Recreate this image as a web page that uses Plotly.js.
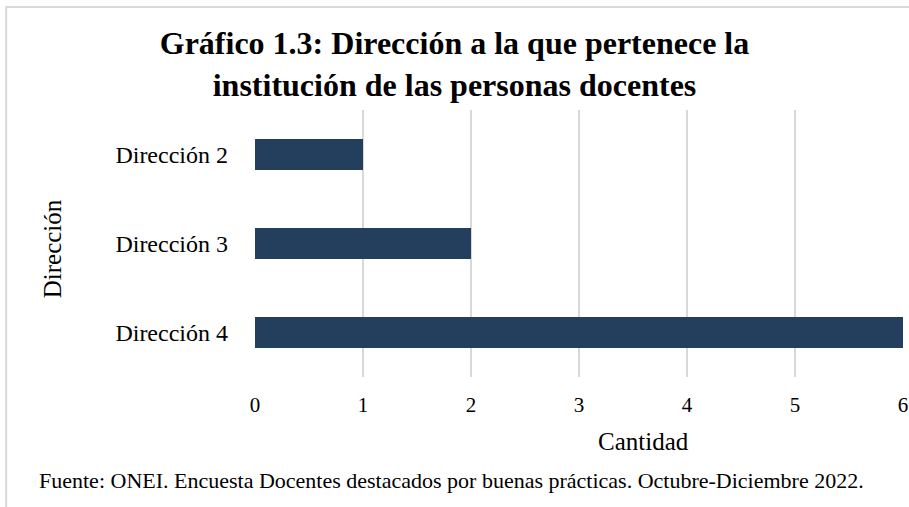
<!DOCTYPE html>
<html>
<head>
<meta charset="utf-8">
<script src="https://cdn.plot.ly/plotly-3.0.1.min.js"></script>
<style>html,body{margin:0;padding:0;background:#fff;}#chart{width:909px;height:507px;}</style>
</head>
<body>
<div id="chart"></div>
<script>
var categories = ['Dirección 2', 'Dirección 3', 'Dirección 4'];
var values = [1, 2, 6];
var xTicks = [0, 1, 2, 3, 4, 5, 6];
var titleText = 'Gráfico 1.3: Dirección a la que pertenece la<br>institución de las personas docentes';
var xTitle = 'Cantidad';
var yTitle = 'Dirección';
var sourceText = 'Fuente: ONEI. Encuesta Docentes destacados por buenas prácticas. Octubre-Diciembre 2022.';

var serif = 'Liberation Serif, Times New Roman, serif';

var trace = {
  type: 'bar',
  orientation: 'h',
  y: categories,
  x: values,
  marker: {color: '#243f5e'},
  width: 0.35,
  hoverinfo: 'x+y'
};

var layout = {
  width: 909,
  height: 507,
  margin: {l: 255, r: 6, t: 110, b: 130},
  paper_bgcolor: '#ffffff',
  plot_bgcolor: '#ffffff',
  showlegend: false,
  title: {
    text: titleText,
    font: {family: serif, size: 32, color: '#000000', weight: 'bold'},
    x: 0.5, xref: 'container', xanchor: 'center',
    y: 0.893, yref: 'container', yanchor: 'middle'
  },
  xaxis: {
    range: [0, 6],
    tickvals: xTicks,
    ticktext: xTicks.map(String),
    showgrid: true,
    gridcolor: '#d9d9d9',
    gridwidth: 2,
    zeroline: false,
    showline: false,
    ticks: '',
    ticklabelstandoff: 13,
    tickfont: {family: serif, size: 21, color: '#000000'},
    fixedrange: true
  },
  yaxis: {
    autorange: 'reversed',
    type: 'category',
    showgrid: false,
    zeroline: false,
    showline: false,
    ticks: '',
    ticklabelstandoff: 26,
    tickfont: {family: serif, size: 24, color: '#000000'},
    fixedrange: true
  },
  shapes: [{
    type: 'rect', xref: 'paper', yref: 'paper',
    x0: -0.384, x1: 1.03, y0: -0.55, y1: 1.386,
    line: {color: '#d9d9d9', width: 2}, fillcolor: 'rgba(0,0,0,0)', layer: 'below'
  }],
  annotations: [
    {
      text: xTitle, xref: 'paper', yref: 'paper',
      x: 0.599, y: -0.243, xanchor: 'center', yanchor: 'middle',
      showarrow: false, font: {family: serif, size: 25, color: '#000000'}
    },
    {
      text: yTitle, xref: 'paper', yref: 'paper', textangle: -90,
      x: -0.313, y: 0.479, xanchor: 'center', yanchor: 'middle',
      showarrow: false, font: {family: serif, size: 25, color: '#000000'}
    },
    {
      text: sourceText, xref: 'paper', yref: 'paper',
      x: -0.336, y: -0.386, xanchor: 'left', yanchor: 'middle',
      showarrow: false, font: {family: serif, size: 22, color: '#000000'}
    }
  ]
};

Plotly.newPlot('chart', [trace], layout, {displayModeBar: false, staticPlot: true});
</script>
</body>
</html>
